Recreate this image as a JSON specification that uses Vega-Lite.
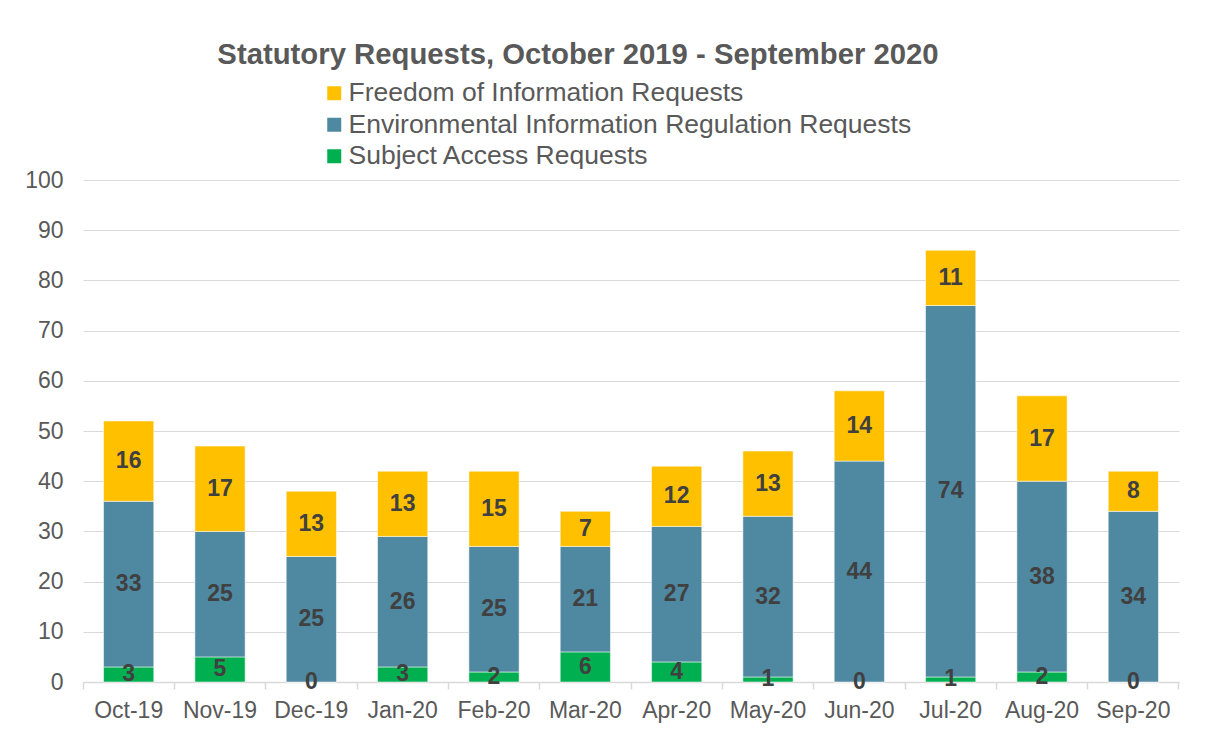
{
  "$schema": "https://vega.github.io/schema/vega-lite/v6.json",
  "autosize": "none",
  "width": 1096,
  "height": 502,
  "padding": {"left": 83, "top": 180, "right": 27, "bottom": 60},
  "background": "white",
  "title": {
    "text": "Statutory Requests, October 2019 - September 2020",
    "font": "Liberation Sans",
    "fontSize": 29.3,
    "fontWeight": "bold",
    "color": "#595959",
    "anchor": "middle",
    "frame": "group",
    "dx": -53,
    "offset": 10
  },
  "config": {
    "view": {"stroke": null},
    "font": "Liberation Sans"
  },
  "data": {
    "values": [
      {"month": "Oct-19", "type": "Subject Access Requests", "stack": 1, "value": 3},
      {"month": "Oct-19", "type": "Environmental Information Regulation Requests", "stack": 2, "value": 33},
      {"month": "Oct-19", "type": "Freedom of Information Requests", "stack": 3, "value": 16},
      {"month": "Nov-19", "type": "Subject Access Requests", "stack": 1, "value": 5},
      {"month": "Nov-19", "type": "Environmental Information Regulation Requests", "stack": 2, "value": 25},
      {"month": "Nov-19", "type": "Freedom of Information Requests", "stack": 3, "value": 17},
      {"month": "Dec-19", "type": "Subject Access Requests", "stack": 1, "value": 0},
      {"month": "Dec-19", "type": "Environmental Information Regulation Requests", "stack": 2, "value": 25},
      {"month": "Dec-19", "type": "Freedom of Information Requests", "stack": 3, "value": 13},
      {"month": "Jan-20", "type": "Subject Access Requests", "stack": 1, "value": 3},
      {"month": "Jan-20", "type": "Environmental Information Regulation Requests", "stack": 2, "value": 26},
      {"month": "Jan-20", "type": "Freedom of Information Requests", "stack": 3, "value": 13},
      {"month": "Feb-20", "type": "Subject Access Requests", "stack": 1, "value": 2},
      {"month": "Feb-20", "type": "Environmental Information Regulation Requests", "stack": 2, "value": 25},
      {"month": "Feb-20", "type": "Freedom of Information Requests", "stack": 3, "value": 15},
      {"month": "Mar-20", "type": "Subject Access Requests", "stack": 1, "value": 6},
      {"month": "Mar-20", "type": "Environmental Information Regulation Requests", "stack": 2, "value": 21},
      {"month": "Mar-20", "type": "Freedom of Information Requests", "stack": 3, "value": 7},
      {"month": "Apr-20", "type": "Subject Access Requests", "stack": 1, "value": 4},
      {"month": "Apr-20", "type": "Environmental Information Regulation Requests", "stack": 2, "value": 27},
      {"month": "Apr-20", "type": "Freedom of Information Requests", "stack": 3, "value": 12},
      {"month": "May-20", "type": "Subject Access Requests", "stack": 1, "value": 1},
      {"month": "May-20", "type": "Environmental Information Regulation Requests", "stack": 2, "value": 32},
      {"month": "May-20", "type": "Freedom of Information Requests", "stack": 3, "value": 13},
      {"month": "Jun-20", "type": "Subject Access Requests", "stack": 1, "value": 0},
      {"month": "Jun-20", "type": "Environmental Information Regulation Requests", "stack": 2, "value": 44},
      {"month": "Jun-20", "type": "Freedom of Information Requests", "stack": 3, "value": 14},
      {"month": "Jul-20", "type": "Subject Access Requests", "stack": 1, "value": 1},
      {"month": "Jul-20", "type": "Environmental Information Regulation Requests", "stack": 2, "value": 74},
      {"month": "Jul-20", "type": "Freedom of Information Requests", "stack": 3, "value": 11},
      {"month": "Aug-20", "type": "Subject Access Requests", "stack": 1, "value": 2},
      {"month": "Aug-20", "type": "Environmental Information Regulation Requests", "stack": 2, "value": 38},
      {"month": "Aug-20", "type": "Freedom of Information Requests", "stack": 3, "value": 17},
      {"month": "Sep-20", "type": "Subject Access Requests", "stack": 1, "value": 0},
      {"month": "Sep-20", "type": "Environmental Information Regulation Requests", "stack": 2, "value": 34},
      {"month": "Sep-20", "type": "Freedom of Information Requests", "stack": 3, "value": 8}
    ]
  },
  "resolve": {"axis": {"x": "independent"}},
  "layer": [
    {
      "mark": {"type": "bar", "stroke": "white", "strokeWidth": 0.75, "strokeOpacity": 0.7},
      "encoding": {
        "x": {
          "field": "month",
          "type": "nominal",
          "sort": null,
          "scale": {"paddingInner": 0.45, "paddingOuter": 0.225},
          "axis": {
            "orient": "bottom",
            "title": null,
            "labelAngle": 0,
            "labelFont": "Liberation Sans",
            "labelFontSize": 23,
            "labelColor": "#595959",
            "labelPadding": 17,
            "ticks": false,
            "domainColor": "#D9D9D9",
            "domainWidth": 1.5
          }
        },
        "y": {
          "field": "value",
          "type": "quantitative",
          "stack": "zero",
          "scale": {"domain": [0, 100]},
          "axis": {
            "title": null,
            "values": [0, 10, 20, 30, 40, 50, 60, 70, 80, 90, 100],
            "grid": true,
            "gridColor": "#D9D9D9",
            "gridWidth": 1.2,
            "domain": false,
            "ticks": false,
            "labelPadding": 20,
            "labelFont": "Liberation Sans",
            "labelFontSize": 23,
            "labelColor": "#595959"
          }
        },
        "color": {
          "field": "type",
          "type": "nominal",
          "scale": {
            "domain": ["Freedom of Information Requests", "Environmental Information Regulation Requests", "Subject Access Requests"],
            "range": ["#FFC000", "#4F88A1", "#00B050"]
          },
          "legend": {
            "title": null,
            "orient": "none",
            "legendX": 238,
            "legendY": -100,
            "padding": 0,
            "symbolType": "square",
            "symbolSize": 196,
            "symbolStrokeWidth": 0,
            "labelFont": "Liberation Sans",
            "labelFontSize": 26.5,
            "labelColor": "#595959",
            "labelOffset": 1,
            "labelLimit": 800,
            "rowPadding": 4.5
          }
        },
        "order": {"field": "stack", "type": "quantitative"}
      }
    },
    {
      "transform": [
        {"stack": "value", "groupby": ["month"], "sort": [{"field": "stack", "order": "ascending"}], "as": ["v0", "v1"]},
        {"calculate": "(datum.v0 + datum.v1) / 2", "as": "mid"}
      ],
      "mark": {"type": "text", "font": "Liberation Sans", "fontSize": 23, "fontWeight": "bold", "color": "#404040", "baseline": "middle"},
      "encoding": {
        "x": {
          "field": "month",
          "type": "nominal",
          "sort": null,
          "axis": {
            "orient": "bottom",
            "title": null,
            "labels": false,
            "domain": false,
            "ticks": true,
            "tickSize": 7,
            "tickWidth": 1.5,
            "tickColor": "#D9D9D9",
            "bandPosition": -0.40909
          }
        },
        "y": {"field": "mid", "type": "quantitative"},
        "text": {"field": "value", "type": "quantitative"}
      }
    },
    {
      "mark": {"type": "text", "text": ""},
      "encoding": {
        "x": {
          "field": "month",
          "type": "nominal",
          "sort": null,
          "axis": {
            "orient": "bottom",
            "title": null,
            "labels": false,
            "domain": false,
            "ticks": true,
            "tickSize": 7,
            "tickWidth": 1.5,
            "tickColor": "#D9D9D9",
            "values": ["Sep-20"],
            "bandPosition": 1.40909
          }
        }
      }
    }
  ]
}
